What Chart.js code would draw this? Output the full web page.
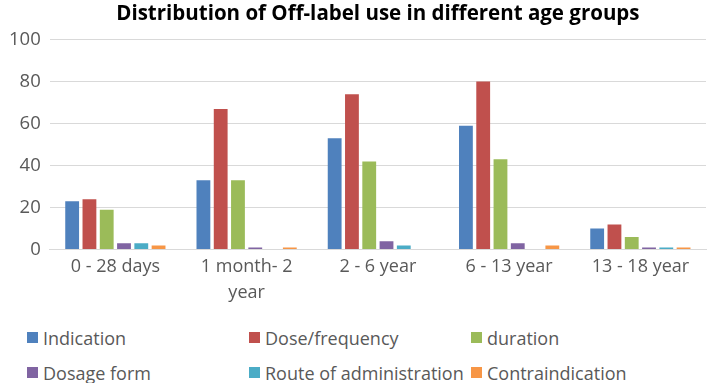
<!DOCTYPE html>
<html lang="en">
<head>
    <meta charset="UTF-8">
    <title>Off-label use by age group</title>
    <script src="https://cdn.jsdelivr.net/npm/chart.js"></script>
    <style>
        html, body {
            margin: 0;
            padding: 0;
            background: #ffffff;
        }
        .wrap {
            position: relative;
            width: 709px;
            height: 383px;
            font-family: "Open Sans", sans-serif;
        }
        .chart-box {
            position: absolute;
            left: 0;
            top: 0;
            width: 709px;
            height: 310px;
        }
        .legend {
            position: absolute;
            left: 27px;
            top: 320px;
            display: grid;
            grid-template-columns: 222px 222px 222px;
            font-size: 18px;
            color: #595959;
        }
        .legend div {
            display: flex;
            align-items: center;
            height: 35px;
            white-space: nowrap;
        }
        .legend span.box {
            display: inline-block;
            width: 11px;
            height: 11px;
            margin-right: 5px;
        }
    </style>
</head>
<body>
<div class="wrap">
    <div class="chart-box"><canvas id="chart"></canvas></div>
    <div class="legend" id="legend"></div>
</div>
<script>
  // age groups on the x axis
  const ageGroups = ['0 - 28 days', ['1 month- 2', 'year'], '2 - 6 year', '6 - 13 year', '13 - 18 year'];

  // off-label categories, one series each
  const indication = [23, 33, 53, 59, 10];
  const doseFrequency = [24, 67, 74, 80, 12];
  const duration = [19, 33, 42, 43, 6];
  const dosageForm = [3, 1, 4, 3, 1];
  const routeOfAdmin = [3, 0, 2, 0, 1];
  const contraindication = [2, 1, 0, 2, 1];

  const yTicks = [0, 20, 40, 60, 80, 100];

  const seriesNames = ['Indication', 'Dose/frequency', 'duration', 'Dosage form', 'Route of administration', 'Contraindication'];
  const seriesData = [indication, doseFrequency, duration, dosageForm, routeOfAdmin, contraindication];
  const colors = ['#4f81bd', '#c0504d', '#9bbb59', '#8064a2', '#4bacc6', '#f79646'];

  const textColor = '#595959';
  const font = '"Open Sans", sans-serif';

  new Chart(document.getElementById('chart'), {
    type: 'bar',
    data: {
      labels: ageGroups,
      datasets: seriesNames.map((name, i) => ({
        label: name,
        data: seriesData[i],
        backgroundColor: colors[i],
        categoryPercentage: 0.79,
        barPercentage: 0.8
      }))
    },
    options: {
      responsive: true,
      maintainAspectRatio: false,
      animation: false,
      layout: { padding: { left: 0, right: 3, top: 0, bottom: 0 } },
      plugins: {
        legend: { display: false },
        tooltip: { enabled: false },
        title: {
          display: true,
          fullSize: false,
          text: 'Distribution of Off-label use in different age groups',
          color: '#000000',
          font: { family: font, size: 20.5, weight: 'bold', lineHeight: 1.2 },
          padding: { top: 2, bottom: 13 }
        }
      },
      scales: {
        x: {
          grid: { display: false, drawTicks: false },
          border: { color: '#d9d9d9' },
          ticks: {
            color: textColor,
            font: { family: font, size: 18, lineHeight: 1.4 },
            padding: 5,
            maxRotation: 0,
            autoSkip: false
          }
        },
        y: {
          min: 0,
          max: 100,
          afterBuildTicks: axis => { axis.ticks = yTicks.map(v => ({ value: v })); },
          grid: { color: '#d9d9d9', drawTicks: false },
          border: { display: false },
          ticks: { color: textColor, font: { family: font, size: 18.5 }, padding: 9 }
        }
      }
    }
  });

  // legend laid out in three columns like the original
  const legend = document.getElementById('legend');
  seriesNames.forEach((name, i) => {
    const item = document.createElement('div');
    item.innerHTML = '<span class="box" style="background:' + colors[i] + '"></span>' + name;
    legend.appendChild(item);
  });
</script>
</body>
</html>
